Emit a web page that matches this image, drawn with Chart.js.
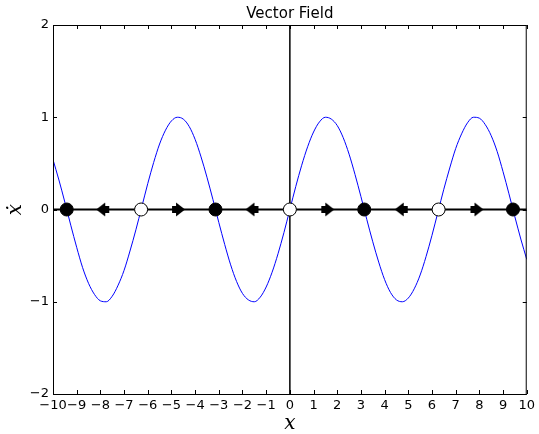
<!DOCTYPE html>
<html>
<head>
<meta charset="utf-8">
<script src="https://cdn.jsdelivr.net/npm/chart.js@4.4.0/dist/chart.umd.min.js"></script>
<style>
  html, body { margin: 0; padding: 0; background: #fff; }
  #wrap { width: 539px; height: 434px; }
</style>
</head>
<body>
<div id="wrap"><canvas id="grafik" width="539" height="434"></canvas></div>
<script>
// curve samples (x step 0.25)
const curveX = [];
for (let i = -40; i <= 40; i++) curveX.push(i / 4);
const curveY = [
  0.54, 0.32, 0.08, -0.17, -0.41, -0.63, -0.80, -0.92, -0.99, -1.00, -0.94, -0.82,
  -0.66, -0.45, -0.22, 0.03, 0.28, 0.51, 0.71, 0.86, 0.96, 1.00, 0.98, 0.90,
  0.76, 0.57, 0.35, 0.11, -0.14, -0.38, -0.60, -0.78, -0.91, -0.98, -1.00, -0.95,
  -0.84, -0.68, -0.48, -0.25, 0.00, 0.25, 0.48, 0.68, 0.84, 0.95, 1.00, 0.98,
  0.91, 0.78, 0.60, 0.38, 0.14, -0.11, -0.35, -0.57, -0.76, -0.90, -0.98, -1.00,
  -0.96, -0.86, -0.71, -0.51, -0.28, -0.03, 0.22, 0.45, 0.66, 0.82, 0.94, 1.00,
  0.99, 0.92, 0.80, 0.63, 0.41, 0.17, -0.08, -0.32, -0.54
];

const stabil = [-9.42, -3.14, 3.14, 9.42];
const takStabil = [-6.28, 0, 6.28];
const panahKanan = [-4.7, 1.6, 7.9];
const panahKiri = [-7.9, -1.6, 4.7];

const xTicks = [-10, -9, -8, -7, -6, -5, -4, -3, -2, -1, 0, 1, 2, 3, 4, 5, 6, 7, 8, 9, 10];
const yTicks = [-2, -1, 0, 1, 2];

function buatPanah(kanan) {
  const c = document.createElement("canvas");
  c.width = 15;
  c.height = 15;
  const g = c.getContext("2d");
  g.fillStyle = "#000";
  if (!kanan) { g.translate(15, 0); g.scale(-1, 1); }
  g.beginPath();
  g.moveTo(5, 0.5);
  g.lineTo(14, 7.5);
  g.lineTo(5, 14.5);
  g.closePath();
  g.fill();
  g.fillRect(1, 4, 6, 7);
  return c;
}

const minus = v => String(v).replace("-", "\u2212");

const dekorasi = {
  id: "dekorasi",
  afterDraw(chart) {
    const { ctx, chartArea: a, scales } = chart;
    ctx.save();
    ctx.strokeStyle = "#000";
    ctx.lineWidth = 1;
    ctx.beginPath();
    xTicks.forEach(t => {
      const px = Math.round(scales.x.getPixelForValue(t)) + 0.5;
      ctx.moveTo(px, a.bottom); ctx.lineTo(px, a.bottom - 4);
      ctx.moveTo(px, a.top); ctx.lineTo(px, a.top + 4);
    });
    yTicks.forEach(t => {
      const py = Math.round(scales.y.getPixelForValue(t)) + 0.5;
      ctx.moveTo(a.left, py); ctx.lineTo(a.left + 4, py);
      ctx.moveTo(a.right, py); ctx.lineTo(a.right - 4, py);
    });
    ctx.stroke();
    ctx.strokeRect(a.left + 0.5, a.top + 0.5, a.right - a.left - 1, a.bottom - a.top);

    ctx.fillStyle = "#000";
    ctx.textAlign = "center";
    ctx.textBaseline = "middle";
    ctx.font = "15px 'DejaVu Sans'";
    ctx.fillText("Vector Field", (a.left + a.right) / 2, 14);
    ctx.font = "italic 20px 'DejaVu Serif'";
    ctx.fillText("x", (a.left + a.right) / 2, 424);
    ctx.translate(16, (a.top + a.bottom) / 2);
    ctx.rotate(-Math.PI / 2);
    ctx.fillText("\u1E8B", 0, 0);
    ctx.restore();
  }
};

new Chart(document.getElementById("grafik"), {
  type: "scatter",
  data: {
    datasets: [
      {
        data: curveX.map((x, i) => ({ x, y: curveY[i] })),
        showLine: true, borderColor: "#0000ff", borderWidth: 1, pointRadius: 0,
        cubicInterpolationMode: "monotone", order: 4
      },
      {
        data: [{ x: -10, y: 0 }, { x: 10, y: 0 }],
        showLine: true, borderColor: "#000", borderWidth: 2, pointRadius: 0, order: 5
      },
      {
        data: [{ x: 0, y: -2 }, { x: 0, y: 2 }],
        showLine: true, borderColor: "#000", borderWidth: 1.5, pointRadius: 0, order: 6
      },
      {
        data: stabil.map(x => ({ x, y: 0 })),
        pointRadius: 6.5, backgroundColor: "#000", borderColor: "#000", borderWidth: 1, order: 1
      },
      {
        data: takStabil.map(x => ({ x, y: 0 })),
        pointRadius: 6.5, backgroundColor: "#fff", borderColor: "#000", borderWidth: 1, order: 1
      },
      {
        data: panahKanan.map(x => ({ x, y: 0 })),
        pointStyle: buatPanah(true), order: 2
      },
      {
        data: panahKiri.map(x => ({ x, y: 0 })),
        pointStyle: buatPanah(false), order: 2
      }
    ]
  },
  options: {
    responsive: false,
    animation: false,
    layout: { padding: { left: 0, right: 10, top: 25, bottom: 0 } },
    plugins: { legend: { display: false }, tooltip: { enabled: false } },
    scales: {
      x: {
        type: "linear", min: -10, max: 10,
        afterFit(s) { s.height = 40; },
        afterBuildTicks(s) { s.ticks = xTicks.map(v => ({ value: v })); },
        grid: { display: false, drawTicks: false }, border: { display: false },
        ticks: { color: "#000", padding: 4, maxRotation: 0, autoSkip: false, font: { family: "DejaVu Sans", size: 13 }, callback: minus }
      },
      y: {
        type: "linear", min: -2, max: 2,
        afterFit(s) { s.width = 53; },
        afterBuildTicks(s) { s.ticks = yTicks.map(v => ({ value: v })); },
        grid: { display: false, drawTicks: false }, border: { display: false },
        ticks: { color: "#000", padding: 4, font: { family: "DejaVu Sans", size: 13 }, callback: minus }
      }
    }
  },
  plugins: [dekorasi]
});
</script>
</body>
</html>
